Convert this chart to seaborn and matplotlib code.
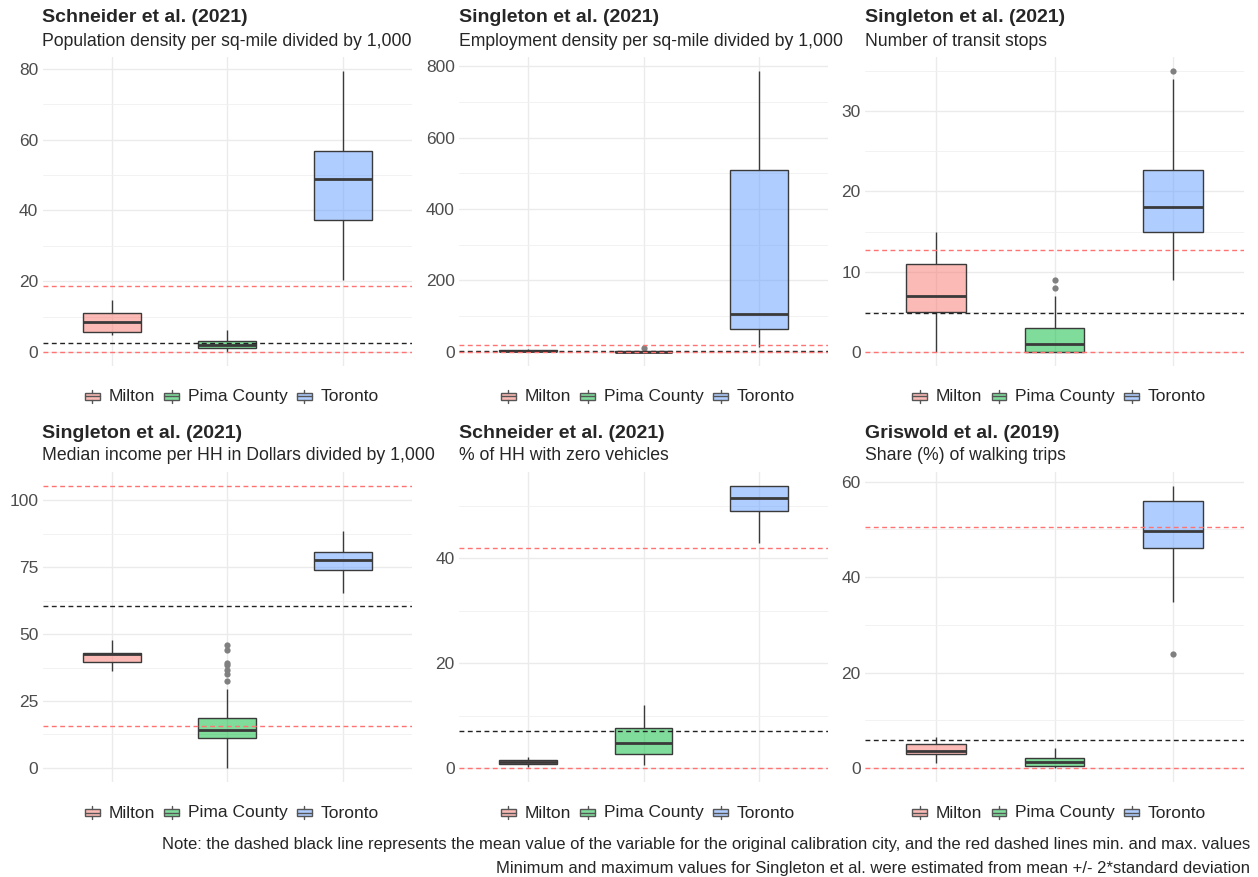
import numpy as np
import pandas as pd
import matplotlib
matplotlib.use("Agg")
import matplotlib.pyplot as plt
import seaborn as sns
from matplotlib.colors import to_rgba
from matplotlib.lines import Line2D
from matplotlib.patches import Rectangle, Patch
from matplotlib.legend_handler import HandlerBase

# cities and colours (ggplot default hues)
cities = ["Milton", "Pima County", "Toronto"]
palette = ["#F8766D", "#00BA38", "#619CFF"]

# panel texts
titles = ["Schneider et al. (2021)", "Singleton et al. (2021)", "Singleton et al. (2021)",
          "Singleton et al. (2021)", "Schneider et al. (2021)", "Griswold et al. (2019)"]
subtitles = ["Population density per sq-mile divided by 1,000",
             "Employment density per sq-mile divided by 1,000",
             "Number of transit stops",
             "Median income per HH in Dollars divided by 1,000",
             "% of HH with zero vehicles",
             "Share (%) of walking trips"]

# box summaries per city: [whisker low, Q1, median, Q3, whisker high]
pop_density = [[4.9, 5.5, 8.4, 11.0, 14.8], [0.0, 1.0, 1.9, 3.2, 6.3], [20.3, 37.2, 48.9, 56.8, 79.4]]
emp_density = [[0.5, 2.0, 4.0, 6.0, 8.0], [0.0, 0.5, 1.0, 3.0, 5.0], [14.0, 65.0, 107.0, 510.0, 786.0]]
transit_stops = [[0.0, 5.0, 7.0, 11.0, 15.0], [0.0, 0.0, 1.0, 3.0, 7.0], [9.0, 15.0, 18.0, 22.7, 34.0]]
median_income = [[36.2, 39.7, 42.4, 43.1, 47.7], [0.0, 11.0, 14.1, 18.7, 29.3], [65.4, 73.8, 77.5, 80.7, 88.5]]
zero_vehicles = [[0.2, 0.76, 1.15, 1.53, 2.1], [0.5, 2.74, 4.72, 7.58, 12.1], [42.9, 49.1, 51.5, 53.8, 53.8]]
walk_share = [[1.1, 3.0, 3.5, 5.1, 6.5], [0.0, 0.4, 1.3, 2.1, 4.1], [34.7, 46.1, 49.6, 55.9, 59.1]]

# outliers per city
pop_out = [[], [], []]
emp_out = [[], [12.0], []]
transit_out = [[], [8.0, 9.0], [35.0]]
income_out = [[], [32.4, 35.0, 36.7, 38.4, 39.2, 43.9, 46.1], []]
zero_out = [[], [], []]
walk_out = [[], [], [23.8]]

# calibration city mean (black) and min / max (red)
means = [2.55, 3.0, 4.8, 60.4, 7.0, 5.8]
mins = [0.0, 0.0, 0.0, 15.6, 0.0, 0.0]
maxs = [18.75, 20.7, 12.7, 105.3, 42.0, 50.5]

yticks = [[0, 20, 40, 60, 80], [0, 200, 400, 600, 800], [0, 10, 20, 30],
          [0, 25, 50, 75, 100], [0, 20, 40], [0, 20, 40, 60]]

boxes = [pop_density, emp_density, transit_stops, median_income, zero_vehicles, walk_share]
outliers = [pop_out, emp_out, transit_out, income_out, zero_out, walk_out]

note1 = ("Note: the dashed black line represents the mean value of the variable for the original "
         "calibration city, and the red dashed lines min. and max. values")
note2 = "Minimum and maximum values for Singleton et al. were estimated from mean +/- 2*standard deviation"

sns.set_theme(style="whitegrid")
plt.rcParams["font.family"] = ["Liberation Sans", "DejaVu Sans"]

W, H = 1258, 877
fig = plt.figure(figsize=(W / 100, H / 100), dpi=100)

EDGE = "#3a3a3a"
RED = "#FF7373"


class BoxKey(HandlerBase):
    # ggplot-like boxplot legend key
    def create_artists(self, legend, orig, xd, yd, w, h, fontsize, trans):
        fc = orig.get_facecolor()
        rect = Rectangle((xd, yd + h * 0.15), w, h * 0.7, facecolor=fc,
                         edgecolor="#555555", lw=1, transform=trans)
        med = Line2D([xd, xd + w], [yd + h / 2] * 2, color="#555555", lw=1, transform=trans)
        w1 = Line2D([xd + w / 2] * 2, [yd - h * 0.1, yd + h * 0.15], color="#555555", lw=1, transform=trans)
        w2 = Line2D([xd + w / 2] * 2, [yd + h * 0.85, yd + h * 1.1], color="#555555", lw=1, transform=trans)
        return [rect, med, w1, w2]


# panel pixel boxes: (left, right) and (top, bottom)
cols = [(42.5, 412), (459, 828), (865, 1244)]
rows = [(57, 366), (472, 782)]
title_y = [(17, 41), (433, 456)]

for i in range(6):
    r, c = divmod(i, 3)
    x0, x1 = cols[c]
    y0, y1 = rows[r]
    ax = fig.add_axes([x0 / W, 1 - y1 / H, (x1 - x0) / W, (y1 - y0) / H])

    df = pd.DataFrame({
        "city": np.repeat(cities, 5),
        "value": np.concatenate(boxes[i]),
    })
    sns.boxplot(data=df, x="city", y="value", hue="city", order=cities, hue_order=cities,
                palette=palette, saturation=1, whis=(0, 100), width=0.5, linecolor=EDGE,
                linewidth=1, showfliers=False, legend=False, ax=ax,
                medianprops=dict(linewidth=2, color=EDGE), capprops=dict(linewidth=0), zorder=2)
    for p in ax.patches:
        p.set_facecolor(to_rgba(p.get_facecolor(), 0.5))

    odf = pd.DataFrame({
        "city": [cities[k] for k in range(3) for _ in outliers[i][k]],
        "value": [v for k in range(3) for v in outliers[i][k]],
    })
    if len(odf):
        sns.stripplot(data=odf, x="city", y="value", order=cities, jitter=False,
                      color="#808080", size=4.5, ax=ax, zorder=3)

    ax.axhline(means[i], color="#222222", ls=(0, (3.5, 2.5)), lw=1, zorder=4)
    ax.axhline(mins[i], color=RED, ls=(0, (3.5, 2.5)), lw=1, zorder=4)
    ax.axhline(maxs[i], color=RED, ls=(0, (3.5, 2.5)), lw=1, zorder=4)

    allv = np.concatenate([np.concatenate(boxes[i]),
                           [v for o in outliers[i] for v in o],
                           [means[i], mins[i], maxs[i]]])
    lo, hi = allv.min(), allv.max()
    pad = 0.05 * (hi - lo)
    ax.set_ylim(lo - pad, hi + pad)
    ax.set_xlim(-0.6, 2.6)

    t = yticks[i]
    step = t[1] - t[0]
    minor = [v + step / 2 for v in [t[0] - step] + t if lo - pad <= v + step / 2 <= hi + pad]
    ax.set_yticks(t)
    ax.set_yticks(minor, minor=True)
    ax.set_xticks([0, 1, 2])
    ax.set_xticklabels([])
    ax.grid(which="major", color="#EBEBEB", lw=1.0)
    ax.grid(which="minor", axis="y", color="#F0F0F0", lw=0.6)
    ax.grid(which="minor", axis="x", visible=False)
    ax.set_axisbelow(True)
    ax.tick_params(axis="y", which="both", length=0, pad=3, labelsize=12.5, labelcolor="#4D4D4D")
    ax.tick_params(axis="x", which="both", length=0)
    ax.set_xlabel("")
    ax.set_ylabel("")
    for s in ax.spines.values():
        s.set_visible(False)

    handles = [Patch(facecolor=to_rgba(col, 0.5)) for col in palette]
    ax.legend(handles, cities, handler_map={Patch: BoxKey()}, loc="center",
              bbox_to_anchor=(0.512, -0.1), ncol=3, frameon=False, fontsize=12.5,
              handlelength=0.85, handleheight=0.6, handletextpad=0.5, columnspacing=0.55)

    ty, sy = title_y[r]
    fig.text(x0 / W, 1 - ty / H, titles[i], fontsize=14, fontweight="bold", va="center", ha="left")
    fig.text(x0 / W, 1 - sy / H, subtitles[i], fontsize=12.7, va="center", ha="left")

fig.text(1250 / W, 1 - 845 / H, note1, fontsize=12, ha="right", va="center")
fig.text(1250 / W, 1 - 868 / H, note2, fontsize=12, ha="right", va="center")

fig.savefig("out.png", dpi=100, facecolor="white")
